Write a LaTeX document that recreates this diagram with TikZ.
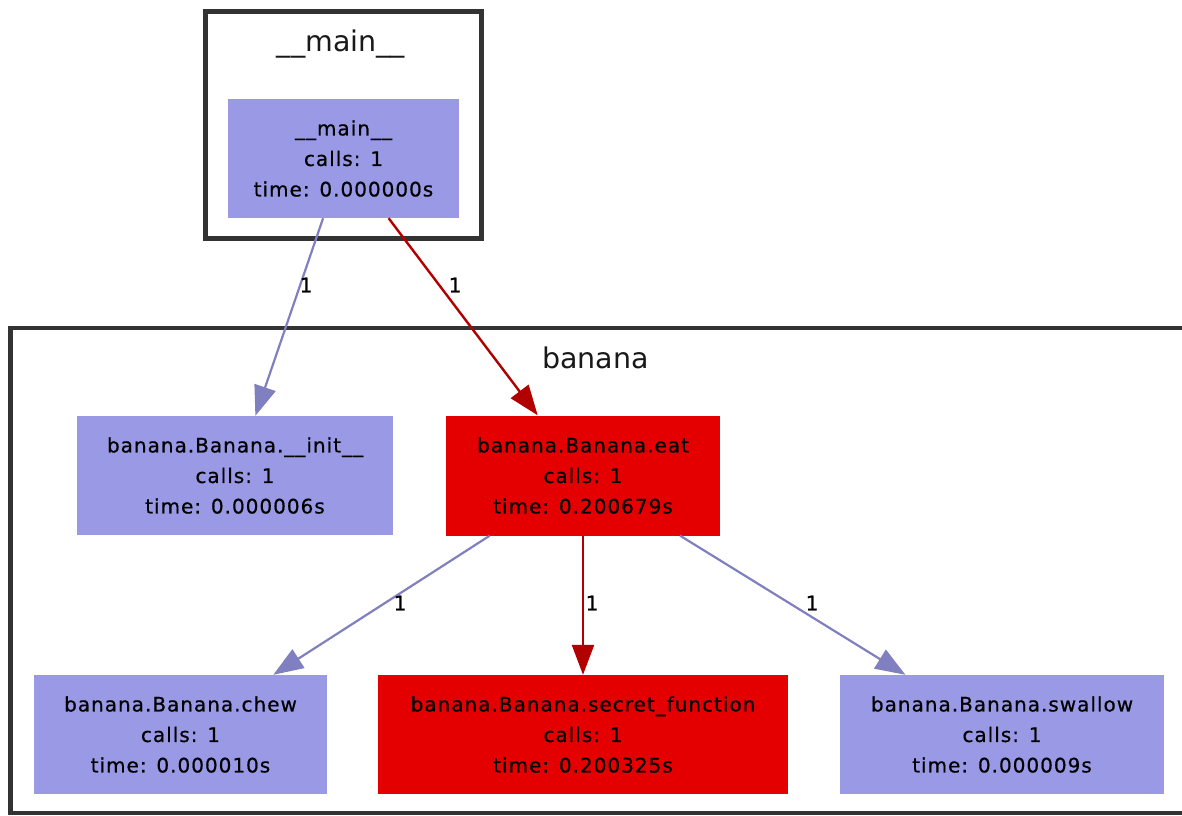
\documentclass[tikz,border=0pt]{standalone}
\usepackage{fontspec}
\setmainfont{DejaVu Sans}
\newfontfamily\nodefont[LetterSpace=5,FakeBold=0.6]{DejaVu Sans}
\newfontfamily\labfont[FakeBold=0.6]{DejaVu Sans}
\usetikzlibrary{arrows.meta}
\definecolor{nodeblue}{RGB}{153,153,230}
\definecolor{nodered}{RGB}{228,0,0}
\definecolor{edgeblue}{RGB}{128,128,192}
\definecolor{edgered}{RGB}{178,0,0}
\definecolor{clusterline}{RGB}{51,51,51}
\begin{document}
\begin{tikzpicture}[x=1pt,y=-1pt,
  fn/.style={rectangle, inner sep=0pt, align=center, text=black,
    font=\nodefont\fontsize{20}{30.5}\selectfont},
  fnblue/.style={fn, fill=nodeblue},
  fnred/.style={fn, fill=nodered},
  cluster/.style={draw=clusterline, line width=4.5pt},
  clab/.style={font=\fontsize{28.5}{34}\selectfont, anchor=base, inner sep=0pt, text=black!90},
  elab/.style={font=\labfont\fontsize{20}{22}\selectfont, inner sep=0pt, text=black},
  eblue/.style={draw=edgeblue, line width=2.2pt, -{Triangle[length=30pt,width=22pt]}},
  ered/.style={draw=edgered, line width=2.4pt, -{Triangle[length=30pt,width=22pt]}}]
\fill[white] (0,0) rectangle (1182,815);
\useasboundingbox (0,0) rectangle (1182,815);
\clip (0,0) rectangle (1182,815);
% clusters
\draw[cluster] (205.5,11.5) rectangle (481.5,238.5);
\node[clab] (mainlab) at (341,51) {\_\_main\_\_};
\draw[cluster] (10.5,328) rectangle (1200,813);
\node[clab] (bananalab) at (595.5,368) {banana};
% nodes
\node[fnblue, minimum width=231pt, minimum height=119pt] (main) at (343.5,158.5)
  {\_\_main\_\_\\calls: 1\\time: 0.000000s};
\node[fnblue, minimum width=316pt, minimum height=119pt] (init) at (235,475.5)
  {banana.Banana.\_\_init\_\_\\calls: 1\\time: 0.000006s};
\node[fnred, minimum width=274pt, minimum height=120pt] (eat) at (583,475.5)
  {banana.Banana.eat\\calls: 1\\time: 0.200679s};
\node[fnblue, minimum width=293pt, minimum height=119pt] (chew) at (180.5,734.5)
  {banana.Banana.chew\\calls: 1\\time: 0.000010s};
\node[fnred, minimum width=410pt, minimum height=119pt] (secret) at (583,734.5)
  {banana.Banana.secret\_function\\calls: 1\\time: 0.200325s};
\node[fnblue, minimum width=324pt, minimum height=119pt] (swallow) at (1002,734.5)
  {banana.Banana.swallow\\calls: 1\\time: 0.000009s};
% edges
\draw[eblue] (main) -- (init);
\draw[ered] (main) -- (eat);
\draw[eblue] (eat) -- (chew);
\draw[ered] (eat) -- (secret);
\draw[eblue] (eat) -- (swallow);
% edge labels
\node[elab] (l1) at (306,285) {1};
\node[elab] (l2) at (455,285) {1};
\node[elab] (l3) at (400,603) {1};
\node[elab] (l4) at (592,603) {1};
\node[elab] (l5) at (812,603) {1};
\end{tikzpicture}
\end{document}
